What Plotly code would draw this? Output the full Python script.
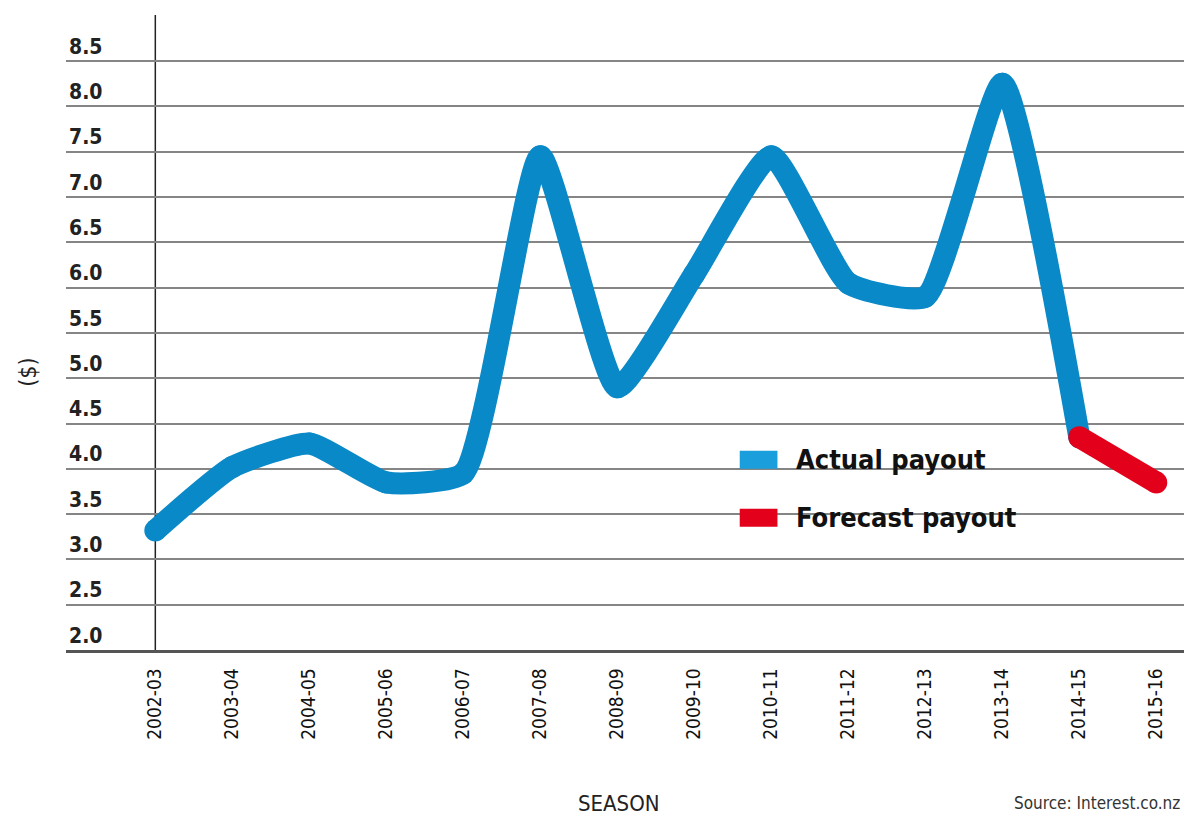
import plotly.graph_objects as go

seasons = ["2002-03", "2003-04", "2004-05", "2005-06", "2006-07", "2007-08",
           "2008-09", "2009-10", "2010-11", "2011-12", "2012-13", "2013-14",
           "2014-15", "2015-16"]
actual_payout = [3.32, 4.02, 4.28, 3.85, 3.95, 7.45, 4.9, 6.15, 7.45, 6.05,
                 5.9, 8.25, 4.35]
forecast_seasons = ["2014-15", "2015-16"]
forecast_payout = [4.35, 3.85]
y_ticks = [2.0, 2.5, 3.0, 3.5, 4.0, 4.5, 5.0, 5.5, 6.0, 6.5, 7.0, 7.5, 8.0, 8.5]

BLUE = "#0a89c8"
BLUE_KEY = "#1a9fdc"
RED = "#e3001b"
FONT = "Liberation Sans Narrow, DejaVu Sans Condensed, Arial Narrow, sans-serif"
LW = 22

fig = go.Figure()
fig.add_trace(go.Scatter(
    x=seasons[:len(actual_payout)], y=actual_payout, name="Actual payout",
    mode="lines+markers", line=dict(color=BLUE, width=LW, shape="spline", smoothing=0.5),
    marker=dict(color=BLUE, size=LW, line=dict(width=0)), hoverinfo="x+y",
))
fig.add_trace(go.Scatter(
    x=forecast_seasons, y=forecast_payout, name="Forecast payout",
    mode="lines+markers", line=dict(color=RED, width=LW),
    marker=dict(color=RED, size=LW, line=dict(width=0)), hoverinfo="x+y",
))

# vertical axis line at the first season
fig.add_shape(type="line", xref="x", yref="paper", x0=seasons[0], x1=seasons[0],
              y0=0, y1=1, line=dict(color="#222", width=1.5), layer="below")

# legend keys drawn as squares with bold labels
keys = [("Actual payout", BLUE_KEY, 4.1), ("Forecast payout", RED, 3.46)]
for label, color, yv in keys:
    fig.add_shape(type="rect", xref="x", yref="y", x0=7.59, x1=8.08,
                  y0=yv - 0.1, y1=yv + 0.1, fillcolor=color, line=dict(width=0))
    fig.add_annotation(x=8.3, y=yv, xref="x", yref="y", text=f"<b>{label}</b>",
                       showarrow=False, xanchor="left", yanchor="middle",
                       font=dict(family=FONT, size=27, color="#111"))

fig.add_annotation(text="SEASON", xref="paper", yref="paper",
                   x=0.495, y=-0.241, xanchor="center", yanchor="middle",
                   showarrow=False, font=dict(family=FONT, size=22, color="#222"))
fig.add_annotation(text="Source: Interest.co.nz", xref="paper", yref="paper",
                   x=0.998, y=-0.241, xanchor="right", yanchor="middle", showarrow=False,
                   font=dict(family=FONT, size=17, color="#333"))
fig.add_annotation(text="($)", xref="paper", yref="paper", x=-0.034, y=0.438,
                   xanchor="center", yanchor="middle", textangle=-90, showarrow=False,
                   font=dict(family=FONT, size=23, color="#222"))

fig.update_layout(
    width=1184, height=816,
    margin=dict(l=66, r=0, t=15, b=166),
    paper_bgcolor="white", plot_bgcolor="white",
    showlegend=False,
    xaxis=dict(
        type="category", categoryorder="array", categoryarray=seasons,
        range=[-1.16, 13.36], showgrid=False, zeroline=False,
        showline=True, linecolor="#555", linewidth=2.5,
        ticks="", tickangle=-90, ticklabelstandoff=8,
        tickfont=dict(family=FONT, size=19, color="#111"),
    ),
    yaxis=dict(
        range=[2.0, 9.01], tickvals=y_ticks,
        ticktext=[f"<b>{v:.1f}</b>" for v in y_ticks],
        ticklabelposition="inside top",
        showgrid=True, gridcolor="#858585", gridwidth=1.5,
        zeroline=False, showline=False, ticks="",
        tickfont=dict(family=FONT, size=21, color="#222"),
    ),
)

fig.write_html("out.html")
